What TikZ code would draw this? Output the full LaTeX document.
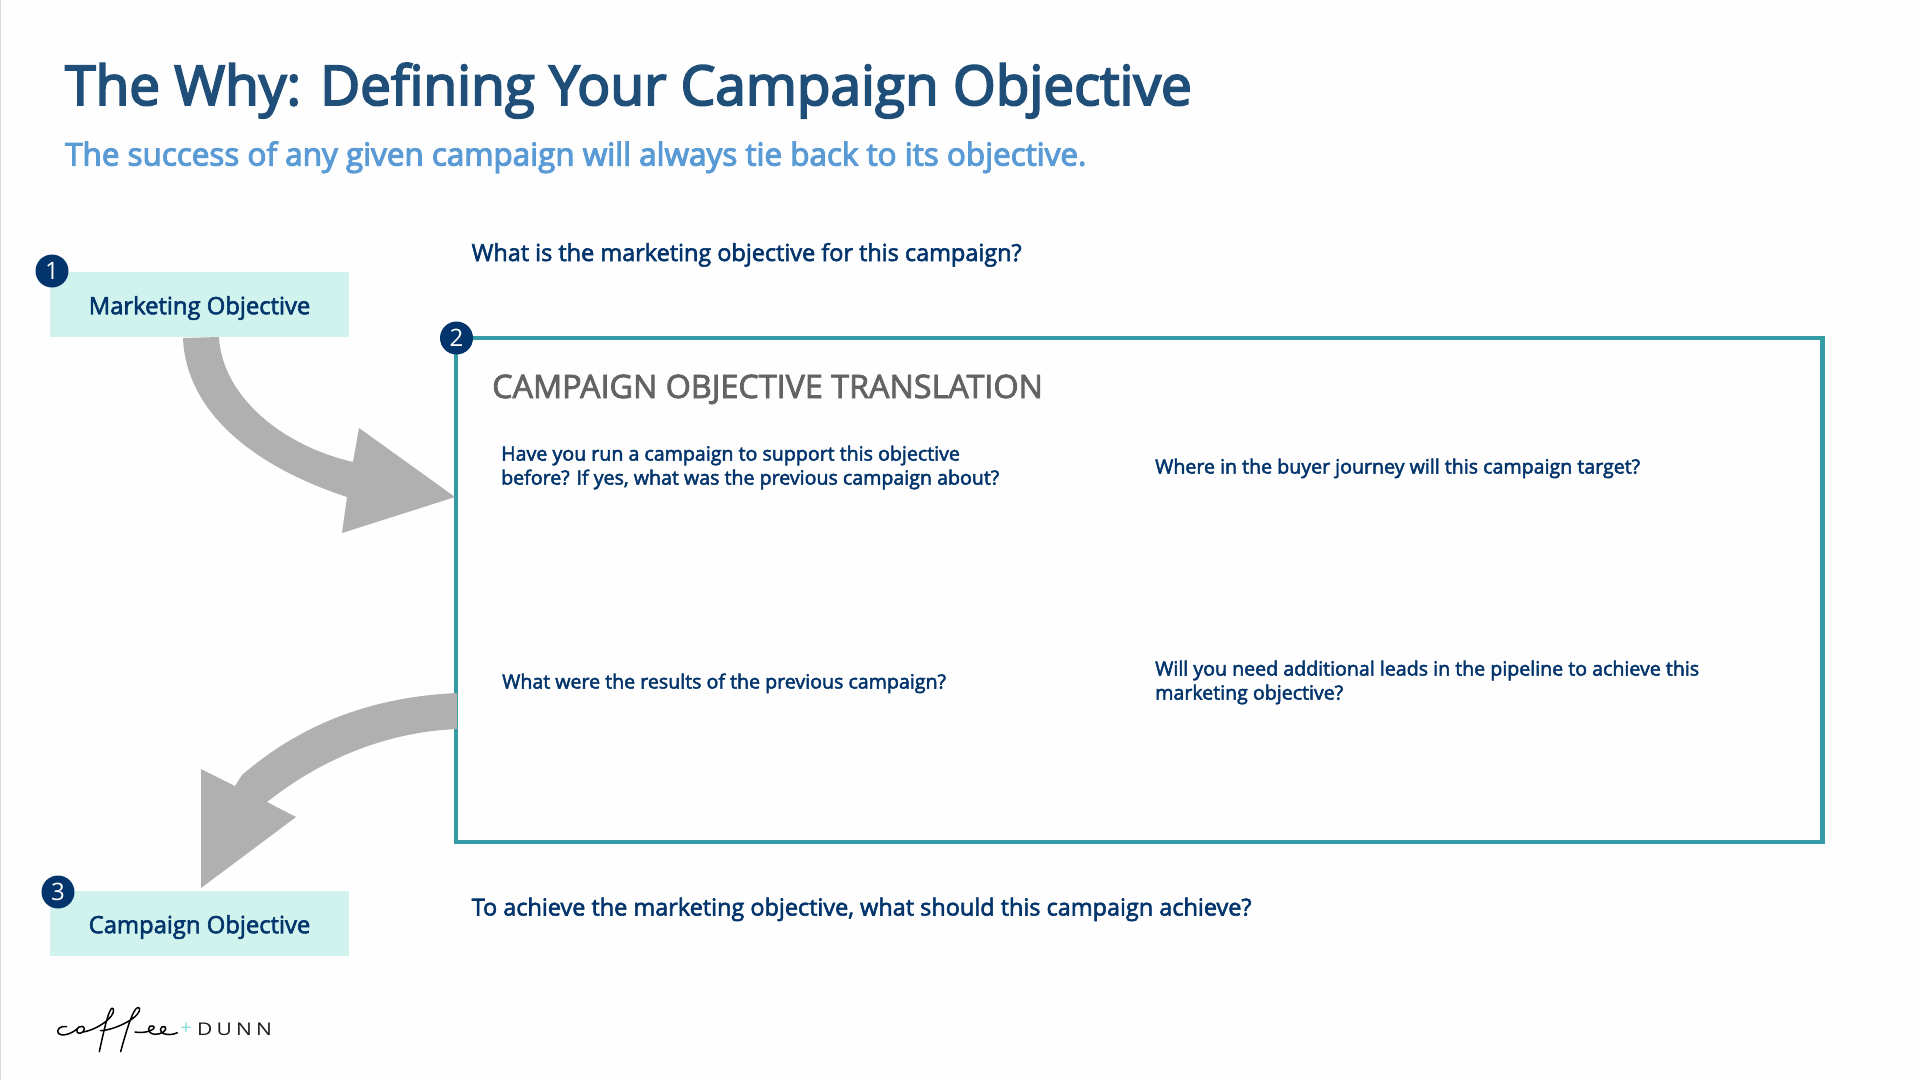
\documentclass[tikz,border=0pt]{standalone}
\usepackage{fontspec}
\setmainfont{Open Sans}
\newfontfamily\semib[FakeBold=2.5]{Open Sans}
\newfontfamily\titlef[FakeBold=3.5]{Open Sans}
\newfontfamily\logof[LetterSpace=24,FakeStretch=1.2]{Open Sans}
\definecolor{navy}{HTML}{03356C}
\definecolor{titleblue}{HTML}{1F4E79}
\definecolor{subblue}{HTML}{5B9BD5}
\definecolor{mint}{HTML}{D0F3ED}
\definecolor{teal}{HTML}{339BA3}
\definecolor{arrowgray}{HTML}{B0B0B0}
\definecolor{headgray}{HTML}{636363}
\definecolor{edgegray}{HTML}{DDDDDD}
\definecolor{paper}{HTML}{FEFEFE}
\definecolor{plusc}{HTML}{86DADA}
\tikzset{
  x=1pt,y=-1pt,
  txt/.style={inner sep=0pt,anchor=base west,text=navy,font=\semib\fontsize{23.45}{28}\selectfont},
  small/.style={txt,font=\semib\fontsize{19.6}{24}\selectfont,align=left},
  objbox/.style={fill=mint,minimum width=299pt,minimum height=65pt,inner sep=0pt,outer sep=0pt,text=navy,font=\semib\fontsize{23.8}{28}\selectfont},
  badge/.style={circle,fill=navy,minimum size=33pt,inner sep=0pt,text=white,font=\fontsize{24}{28}\selectfont},
  bigarrow/.style={fill=arrowgray,draw=none},
  logoink/.style={draw=black,line width=1.5pt,line cap=round,line join=round}
}
\begin{document}
\begin{tikzpicture}
\useasboundingbox (0,0) rectangle (1920,1080);
\fill[paper] (0,0) rectangle (1920,1080);
\fill[edgegray] (0,0) rectangle (1,1080);
% main box
\node[draw=teal,line width=4.6pt,outer sep=0pt,minimum width=1366.7pt,minimum height=504pt,inner sep=0pt,anchor=north west] (main) at (456,338) {};
% arrows
\fill[bigarrow] (183,338) .. controls (186,410) and (250,465) .. (347,497) -- (342,533) -- (455,497) -- (359,428) -- (353,462) .. controls (280,445) and (222,395) .. (219,337) -- cycle;
\fill[bigarrow] (457,693) .. controls (370,697) and (300,725) .. (242,775) -- (235,786) -- (201,769) -- (201,888) -- (296,817) -- (267,802) .. controls (320,760) and (385,732) .. (457,729) -- cycle;
\node[objbox,anchor=north west] (mkt) at (50,272) {\raisebox{-3.5pt}[18pt][5.6pt]{Marketing Objective}};
\node[objbox,anchor=north west] (cmp) at (50,891) {\raisebox{-3.5pt}[18pt][5.6pt]{Campaign Objective}};
\node[badge] (b1) at (52,271) {1};
\node[badge] (b2) at (456.5,338) {2};
\node[badge] (b3) at (58,892) {3};
\node[inner sep=0pt,anchor=base west,text=titleblue,font=\titlef\fontsize{54.9}{66}\selectfont] (title) at (65,105) {The Why: Defining Your Campaign Objective};
\node[inner sep=0pt,anchor=base west,text=subblue,font=\titlef\fontsize{31.4}{38}\selectfont] (sub) at (65,165.5) {The success of any given campaign will always tie back to its objective.};
\node[txt] (q1) at (471.5,261) {What is the marketing objective for this campaign?};
\node[txt] (q2) at (471.5,915.5) {To achieve the marketing objective, what should this campaign achieve?};
\node[inner sep=0pt,anchor=base west,text=headgray,font=\semib\fontsize{32.3}{38}\selectfont] (head) at (492,398) {CAMPAIGN OBJECTIVE TRANSLATION};
\node[small,anchor=north west] (t1) at (501,445.5) {Have you run a campaign to support this objective\\before? If yes, what was the previous campaign about?};
\node[small] (t2) at (1155,473.5) {Where in the buyer journey will this campaign target?};
\node[small] (t3) at (502,688.5) {What were the results of the previous campaign?};
\node[small,anchor=north west] (t4) at (1155,660.5) {Will you need additional leads in the pipeline to achieve this\\marketing objective?};
% logo
\begin{scope}[shift={(40,1000)},x=0.3333pt,y=-0.3333pt]
\draw[logoink] (80,80) .. controls (60,76) and (48,90) .. (55,100) .. controls (62,110) and (92,104) .. (112,86);
\draw[logoink] (126,79) .. controls (108,77) and (105,103) .. (120,100) .. controls (135,97) and (137,80) .. (126,79);
\draw[logoink] (128,96) .. controls (165,92) and (228,52) .. (220,27) .. controls (212,12) and (198,60) .. (178,155);
\draw[logoink] (182,92) .. controls (228,90) and (308,48) .. (298,24) .. controls (285,12) and (265,70) .. (242,155);
\draw[logoink] (285,96) .. controls (315,102) and (352,88) .. (340,78) .. controls (325,70) and (315,100) .. (345,103) .. controls (362,104) and (386,90) .. (375,80) .. controls (362,74) and (350,100) .. (380,103) .. controls (392,105) and (404,102) .. (412,98);
\end{scope}
\node[inner sep=0pt,text=plusc,font=\fontsize{19}{22}\selectfont] (plus) at (186,1029) {+};
\node[inner sep=0pt,anchor=base west,text=black!90,font=\logof\fontsize{17.5}{20}\selectfont] (dunn) at (197,1035) {DUNN};
\end{tikzpicture}
\end{document}
